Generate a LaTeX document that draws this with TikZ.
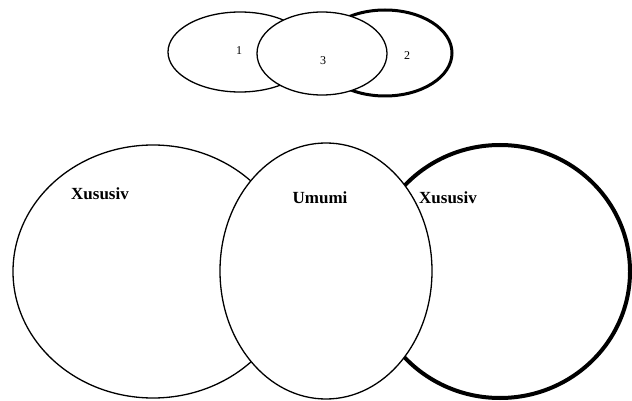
\documentclass[tikz,border=0pt]{standalone}
\usepackage{fontspec}
\setmainfont{Liberation Serif}
\usetikzlibrary{shapes.geometric}

\tikzset{
    venn/.style={ellipse, draw, line width=1.3pt, inner sep=0pt},
    vennthick/.style={venn, line width=3.5pt},
    vennfront/.style={venn, fill=white},
    setlabel/.style={anchor=base, inner sep=0pt, font=\fontsize{17}{20}\selectfont\bfseries},
    numlabel/.style={anchor=base, inner sep=0pt, font=\fontsize{12}{14}\selectfont},
}

\begin{document}
\begin{tikzpicture}[x=1pt, y=-1pt]
    \useasboundingbox (0,0) rectangle (632,401);

    \node[venn, minimum width=144pt, minimum height=80pt] (smallone) at (240,52) {};
    \node[vennthick, line width=3pt, minimum width=134pt, minimum height=86pt] (smalltwo) at (385,53) {};
    \node[vennfront, minimum width=130pt, minimum height=83pt] (smallthree) at (322,53.5) {};

    \node[numlabel] (numone) at (239,55) {1};
    \node[numlabel] (numthree) at (323,65) {3};
    \node[numlabel] (numtwo) at (407,60) {2};

    \node[venn, minimum width=280pt, minimum height=253pt] (bigleft) at (153,271.5) {};
    \node[vennthick, line width=4pt, minimum width=260pt, minimum height=253pt] (bigright) at (500,271.5) {};
    \node[vennfront, minimum width=212pt, minimum height=256pt] (bigmiddle) at (326,271) {};

    \node[setlabel] (xususivleft) at (100,200) {Xususiv};
    \node[setlabel] (umumi) at (320,204) {Umumi};
    \node[setlabel] (xususivright) at (448,203) {Xususiv};
\end{tikzpicture}
\end{document}
